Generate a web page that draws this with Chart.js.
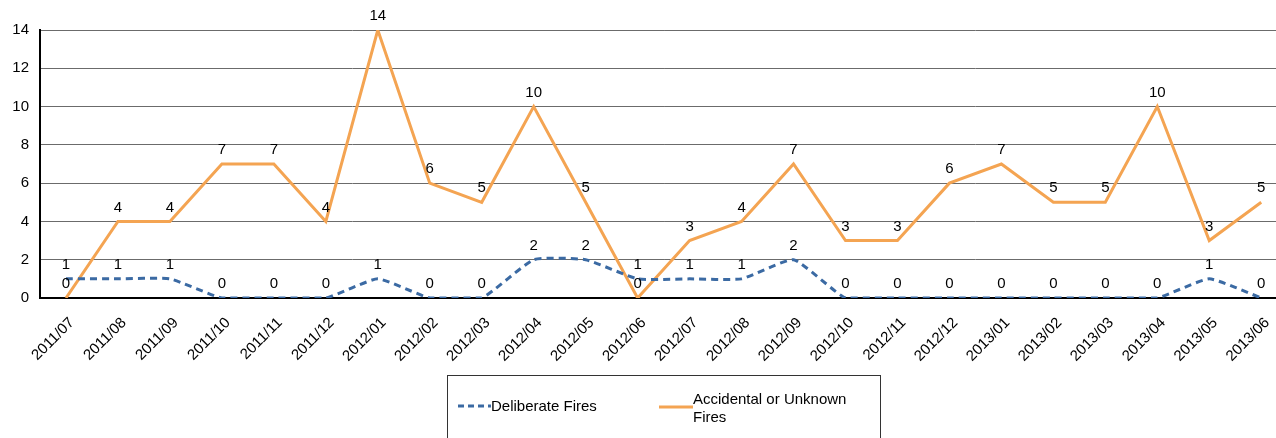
<!DOCTYPE html>
<html>
<head>
<meta charset="utf-8">
<script src="https://cdn.jsdelivr.net/npm/chart.js@4"></script>
<style>
  html, body { margin: 0; padding: 0; background: #fff; overflow: hidden; }
  #wrap { position: relative; width: 1290px; height: 438px; }
  #legend { position: absolute; left: 447px; top: 375px; width: 432px; height: 80px;
    border: 1px solid #333; font-family: "Liberation Sans", Arial, sans-serif; font-size: 15px; color: #000; }
  .item { position: absolute; display: flex; align-items: flex-start; }
  .item svg { margin-top: 5px; }
</style>
</head>
<body>
<div id="wrap">
  <canvas id="chart" width="1290" height="438"></canvas>
  <div id="legend">
    <div class="item" style="left:9px;top:21px">
      <svg width="34" height="8"><line x1="1" y1="4" x2="34" y2="4" stroke="#3B6AA3" stroke-width="3" stroke-dasharray="6,4"/></svg>
      <span>Deliberate Fires</span>
    </div>
    <div class="item" style="left:211px;top:14px">
      <svg width="34" height="16"><line x1="0" y1="12" x2="34" y2="12" stroke="#F4A452" stroke-width="3"/></svg>
      <span style="line-height:18px">Accidental or Unknown<br>Fires</span>
    </div>
  </div>
</div>
<script>
var months = ["2011/07","2011/08","2011/09","2011/10","2011/11","2011/12","2012/01","2012/02","2012/03","2012/04","2012/05","2012/06",
  "2012/07","2012/08","2012/09","2012/10","2012/11","2012/12","2013/01","2013/02","2013/03","2013/04","2013/05","2013/06"];
var deliberate = [1,1,1,0,0,0,1,0,0,2,2,1,1,1,2,0,0,0,0,0,0,0,1,0];
var accidental = [0,4,4,7,7,4,14,6,5,10,5,0,3,4,7,3,3,6,7,5,5,10,3,5];
var yTicks = [0,2,4,6,8,10,12,14];

// draws the number above each point
var valueLabels = {
  id: "valueLabels",
  afterDatasetsDraw: (chart) => {
    var ctx = chart.ctx;
    ctx.save();
    ctx.font = "15px 'Liberation Sans', Arial, sans-serif";
    ctx.fillStyle = "#000";
    ctx.textAlign = "center";
    ctx.textBaseline = "middle";
    chart.data.datasets.forEach((ds, i) => {
      var meta = chart.getDatasetMeta(i);
      meta.data.forEach((pt, j) => {
        ctx.fillText(String(ds.data[j]), pt.x, pt.y - 14);
      });
    });
    ctx.restore();
  }
};

var chart = new Chart(document.getElementById("chart"), {
  type: "line",
  data: {
    labels: months,
    datasets: [
      {label: "Deliberate Fires", data: deliberate, borderColor: "#3B6AA3", borderWidth: 3,
       borderDash: [7,5], pointRadius: 0, tension: 0.15, fill: false},
      {label: "Accidental or Unknown Fires", data: accidental, borderColor: "#F4A452", borderWidth: 3,
       pointRadius: 0, tension: 0, fill: false}
    ]
  },
  options: {
    responsive: false,
    animation: false,
    layout: {padding: {top: 30, right: 2, left: 0, bottom: 0}},
    plugins: {legend: {display: false}, tooltip: {enabled: false}},
    scales: {
      x: {
        offset: true,
        grid: {display: false, drawTicks: false},
        border: {color: "#000", width: 2},
        ticks: {color: "#000", font: {family: "'Liberation Sans', Arial, sans-serif", size: 15},
          minRotation: 45, maxRotation: 45, padding: 16, labelOffset: 6, autoSkip: false},
        afterFit: (s) => { s.height = 140; }
      },
      y: {
        min: 0, max: 14,
        afterBuildTicks: (s) => { s.ticks = yTicks.map(v => ({value: v})); },
        grid: {color: "#6b6b6b", lineWidth: 1, drawTicks: false},
        border: {color: "#000", width: 2},
        ticks: {color: "#000", font: {family: "'Liberation Sans', Arial, sans-serif", size: 15}, padding: 11},
        afterFit: (s) => { s.width = 40; }
      }
    }
  },
  plugins: [valueLabels]
});
</script>
</body>
</html>
